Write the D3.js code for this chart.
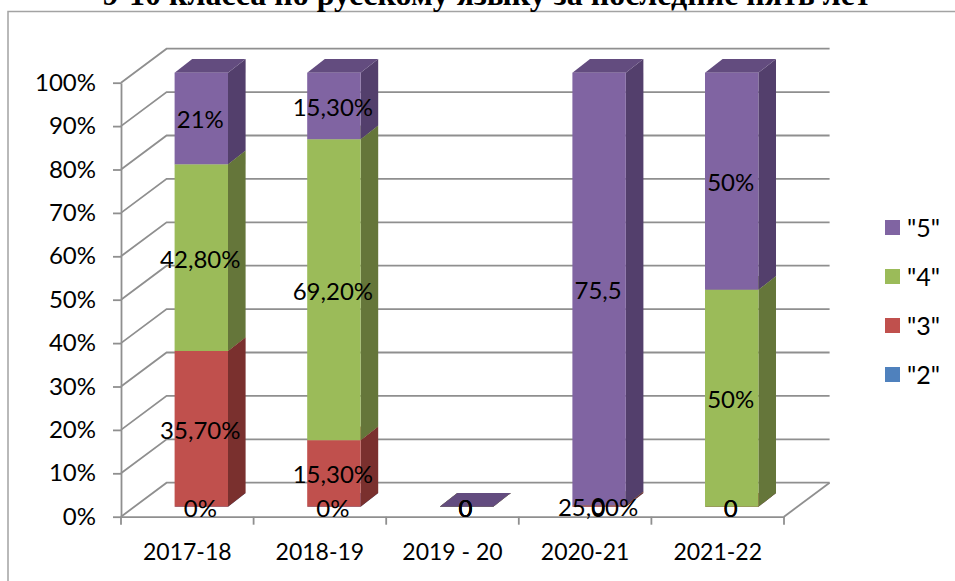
<!DOCTYPE html>
<html>
<head>
<meta charset="utf-8">
<script src="https://cdn.jsdelivr.net/npm/d3@7"></script>
<style>
  html, body { margin: 0; padding: 0; background: #fff; overflow: hidden; }
  text { font-family: Lato, sans-serif; fill: #000; }
</style>
</head>
<body>
<div id="chart"></div>
<script>
    // Data
    const years = ['2017-18', '2018-19', '2019 - 20', '2020-21', '2021-22'];
    const seriesNames = ['"2"', '"3"', '"4"', '"5"'];
    const values2 = [0, 0, 0, 0, 0];
    const values3 = [35.7, 15.3, 0, 0.25, 0];
    const values4 = [42.8, 69.2, 0, 0, 50];
    const values5 = [21, 15.3, 0, 75.5, 50];
    const labels2 = ['0%', '0%', '0', '0', '0'];
    const labels3 = ['35,70%', '15,30%', '0', '25,00%', '0'];
    const labels4 = ['42,80%', '69,20%', '0', '0', '50%'];
    const labels5 = ['21%', '15,30%', '0', '75,5', '50%'];
    const percentTicks = [0, 0.1, 0.2, 0.3, 0.4, 0.5, 0.6, 0.7, 0.8, 0.9, 1];

    const allValues = [values2, values3, values4, values5];
    const allLabels = [labels2, labels3, labels4, labels5];
    const frontColors = ['#4f81bd', '#c0504d', '#9bbb59', '#8064a2'];
    const sideColors = ['#3a5f8c', '#7a302e', '#65763a', '#533f6c'];
    const topColors = ['#436d9f', '#a04341', '#7f9a49', '#634c7f'];

    const width = 955;
    const height = 581;
    const wallDx = 45.6, wallDy = -34;   // floor depth
    const barDx = 17.6, barDy = -13.7;   // bar depth
    const barWidth = 53.4;

    const svg = d3.select('#chart')
      .append('svg')
      .attr('width', width)
      .attr('height', height);

    // Frame of the pasted chart, runs off the page on the right and bottom
    svg.append('path')
      .attr('d', `M8,${height}V11.5H${width}`)
      .attr('fill', 'none')
      .attr('stroke', '#a3a3a3')
      .attr('stroke-width', 1.5);

    // Title is cut by the top of the page in the original too
    svg.append('text')
      .attr('x', 486.5)
      .attr('y', 5)
      .attr('text-anchor', 'middle')
      .style('font-family', '"Liberation Serif", serif')
      .style('font-weight', 'bold')
      .style('font-size', '32px')
      .text('9-10 класса по русскому языку за последние пять лет');

    // Scales
    const x = d3.scaleBand().domain(years).range([121, 784]);
    const y = d3.scaleLinear().domain([0, 1]).range([516.7, 82.7]);

    // Stack the data, every column goes to 100%
    const rows = years.map((year, i) => {
      const row = { year: year };
      seriesNames.forEach((name, s) => { row[name] = allValues[s][i]; });
      return row;
    });
    const stackedData = d3.stack()
      .keys(seriesNames)
      .offset(d3.stackOffsetExpand)(rows);

    // Walls and floor
    const grid = svg.append('g')
      .attr('fill', 'none')
      .attr('stroke', '#8f8f8f')
      .attr('stroke-width', 1.8);

    grid.selectAll('path')
      .data(percentTicks)
      .join('path')
      .attr('d', d => `M${x.range()[0]},${y(d)}l${wallDx},${wallDy}H${x.range()[1] + wallDx}`);

    grid.append('path')
      .attr('d', `M${x.range()[1]},${y(0)}l${wallDx},${wallDy}`);

    // Axes
    const yAxis = d3.axisLeft(y)
      .tickValues(percentTicks)
      .tickFormat(d3.format('.0%'))
      .tickSize(8)
      .tickSizeOuter(0)
      .tickPadding(17);

    const xAxis = d3.axisBottom(x)
      .tickSize(0)
      .tickPadding(27);

    const yG = svg.append('g')
      .attr('transform', `translate(${x.range()[0]},0)`)
      .call(yAxis);

    const xG = svg.append('g')
      .attr('transform', `translate(0,${y(0)})`)
      .call(xAxis);

    // Band edges carry the ticks, not the band centres
    xG.selectAll('.edge')
      .data(d3.range(years.length + 1))
      .join('line')
      .attr('class', 'edge')
      .attr('x1', d => x.range()[0] + d * x.step())
      .attr('x2', d => x.range()[0] + d * x.step())
      .attr('y1', 0)
      .attr('y2', 8);

    [yG, xG].forEach(g => {
      g.selectAll('path, line').attr('stroke', '#8f8f8f').attr('stroke-width', 1.8);
      g.selectAll('text').style('font-family', 'Lato, sans-serif').attr('fill', '#000');
    });
    yG.selectAll('text').style('font-size', '24px');
    xG.selectAll('text').style('font-size', '23px');

    // Columns sit in the middle of the floor depth
    const floorX = (x.step() - barWidth) / 2 + (wallDx - barDx) / 2;
    const barLeft = year => x(year) + floorX;
    const baseShift = -10;

    const columns = svg.append('g');

    stackedData.forEach((layer, s) => {
      const g = columns.append('g');
      layer.forEach(d => {
        const x0 = barLeft(d.data.year);
        const yTop = y(d[1]) + baseShift;
        const yBottom = y(d[0]) + baseShift;

        g.append('path')
          .attr('fill', sideColors[s])
          .attr('d', `M${x0 + barWidth},${yTop}l${barDx},${barDy}V${yBottom + barDy}l${-barDx},${-barDy}Z`);
        g.append('path')
          .attr('fill', topColors[s])
          .attr('d', `M${x0},${yTop}l${barDx},${barDy}h${barWidth}l${-barDx},${-barDy}Z`);
        g.append('rect')
          .attr('x', x0)
          .attr('y', yTop)
          .attr('width', barWidth)
          .attr('height', yBottom - yTop)
          .attr('fill', frontColors[s]);
      });
    });

    // Data labels, drawn last and allowed to pile up like the original
    stackedData.forEach((layer, s) => {
      svg.append('g')
        .selectAll('text')
        .data(layer)
        .join('text')
        .attr('x', d => barLeft(d.data.year) + barWidth / 2 - 1)
        .attr('y', d => y((d[0] + d[1]) / 2) + baseShift + 1.5)
        .attr('dy', '0.35em')
        .attr('text-anchor', 'middle')
        .style('font-size', '24px')
        .text((d, i) => allLabels[s][i]);
    });

    // Legend, "5" on top
    const legend = svg.selectAll('.legend-row')
      .data(seriesNames.slice().reverse())
      .join('g')
      .attr('class', 'legend-row')
      .attr('transform', (d, i) => `translate(885,${220 + i * 49})`);

    legend.append('rect')
      .attr('width', 15)
      .attr('height', 15)
      .attr('fill', (d, i) => frontColors[3 - i]);

    legend.append('text')
      .attr('x', 22)
      .attr('y', 8)
      .attr('dy', '0.35em')
      .style('font-size', '25px')
      .text(d => d);
</script>
</body>
</html>
